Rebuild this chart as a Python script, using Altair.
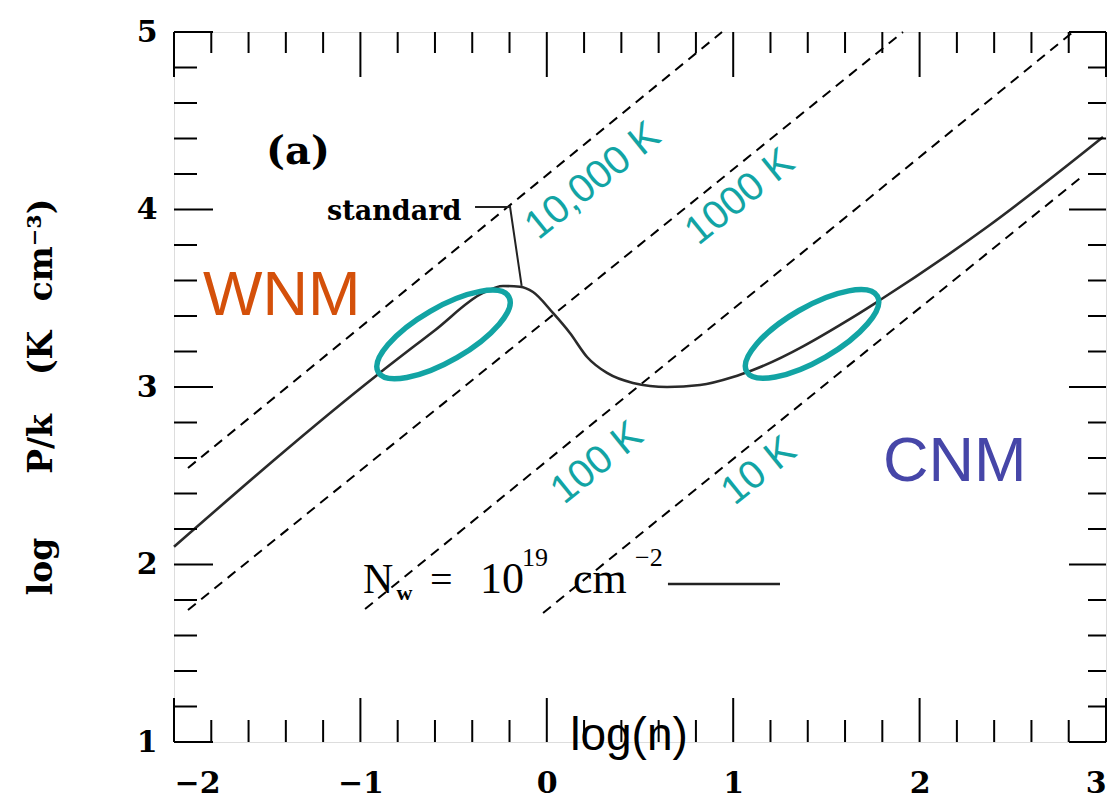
import altair as alt
import pandas as pd

# ---------------- data ----------------
curve_logn = [-2.00, -0.91, -0.60, -0.342, -0.235, -0.144, -0.074, 0.033, 0.124,
              0.216, 0.323, 0.462, 0.645, 0.822, 0.999, 1.106, 1.643, 1.788, 2.362, 2.984]
curve_logP = [2.10, 3.068, 3.32, 3.53, 3.569, 3.565, 3.535, 3.417, 3.304,
              3.169, 3.079, 3.023, 3.000, 3.011, 3.056, 3.096, 3.394, 3.490, 3.901, 4.408]

iso_labels = ["10,000 K", "1000 K", "100 K", "10 K"]
iso_x_start = [-1.925, -1.925, -0.975, -0.020]
iso_y_start = [2.544, 1.744, 1.749, 1.727]
iso_x_end = [0.940, 1.911, 2.823, 2.861]
iso_y_end = [5.0, 5.0, 5.0, 4.177]
iso_label_x = [0.248, 1.036, 0.269, 1.138]
iso_label_y = [4.161, 4.070, 2.572, 2.527]

phase_names = ["WNM", "CNM"]
phase_x = [-1.844, 1.804]
phase_y = [3.406, 2.470]
phase_colors = ["#D4500A", "#4646A8"]

ellipse_x = [-0.554, 1.423]
ellipse_y = [3.296, 3.299]

leader_x = [-0.385, -0.197, -0.135]
leader_y = [4.014, 4.014, 3.57]
nw_line_x = [0.650, 1.251]
nw_line_y = [1.890, 1.890]

x_major = [-2, -1, 0, 1, 2, 3]
y_major = [1, 2, 3, 4, 5]
x_minor = [-1.8, -1.6, -1.4, -1.2, -0.8, -0.6, -0.4, -0.2, 0.2, 0.4, 0.6, 0.8,
           1.2, 1.4, 1.6, 1.8, 2.2, 2.4, 2.6, 2.8]
y_minor = [1.2, 1.4, 1.6, 1.8, 2.2, 2.4, 2.6, 2.8, 3.2, 3.4, 3.6, 3.8,
           4.2, 4.4, 4.6, 4.8]

ytitle_parts = ["log", "P/k", "(K", "cm\u207b\u00b3)"]
ytitle_pos = [1.989, 2.679, 3.192, 3.772]

# ---------------- chart ----------------
W, H = 932, 710
TEAL = "#12A4A4"
SERIF = "DejaVu Serif"
SANS = "Liberation Sans"
TIMES = "Liberation Serif"

xscale = alt.Scale(domain=[-2, 3], nice=False, zero=False)
yscale = alt.Scale(domain=[1, 5], nice=False, zero=False)
xaxis = alt.Axis(values=x_major, ticks=False, tickSize=0, domain=False, grid=False, title=None,
                 labelFont=SERIF, labelFontWeight="bold", labelFontSize=30, labelColor="black",
                 labelPadding=26)
yaxis = alt.Axis(values=y_major, ticks=False, tickSize=0, domain=False, grid=False, title=None,
                 labelFont=SERIF, labelFontWeight="bold", labelFontSize=30, labelColor="black",
                 labelPadding=17)
X = alt.X("x:Q", scale=xscale, axis=xaxis)
Y = alt.Y("y:Q", scale=yscale, axis=yaxis)

iso_rows = []
for i, t in enumerate(iso_labels):
    iso_rows.append({"T": t, "x": iso_x_start[i], "y": iso_y_start[i]})
    iso_rows.append({"T": t, "x": iso_x_end[i], "y": iso_y_end[i]})
iso_df = pd.DataFrame(iso_rows)

isotherms = alt.Chart(iso_df).mark_line(color="black", strokeWidth=2, strokeDash=[10, 7]).encode(
    x=X, y=Y, detail="T:N")

curve_df = pd.DataFrame({"x": curve_logn, "y": curve_logP})
curve = alt.Chart(curve_df).mark_line(color="#2a2a2a", strokeWidth=2.6, interpolate="monotone").encode(x=X, y=Y)

leader = alt.Chart(pd.DataFrame({"x": leader_x, "y": leader_y, "o": [0, 1, 2]})).mark_line(
    color="#222", strokeWidth=2).encode(x=X, y=Y, order="o:Q")
nwline = alt.Chart(pd.DataFrame({"x": nw_line_x, "y": nw_line_y})).mark_line(
    color="#222", strokeWidth=2.5).encode(x=X, y=Y)

ELLIPSE = ("M-1,0 C-1,-0.196 -0.5523,-0.355 0,-0.355 C0.5523,-0.355 1,-0.196 1,0 "
           "C1,0.196 0.5523,0.355 0,0.355 C-0.5523,0.355 -1,0.196 -1,0 Z")
ellipses = alt.Chart(pd.DataFrame({"x": ellipse_x, "y": ellipse_y})).mark_point(
    shape=ELLIPSE, size=22741, angle=330, filled=False, strokeWidth=5.5, color=TEAL, opacity=1
).encode(x=X, y=Y)

iso_text = alt.Chart(pd.DataFrame({"x": iso_label_x, "y": iso_label_y, "t": iso_labels})).mark_text(
    angle=321, font=SANS, fontSize=40, color=TEAL, align="center", baseline="middle"
).encode(x=X, y=Y, text="t:N")

phase_text = alt.Chart(pd.DataFrame({"x": phase_x, "y": phase_y, "t": phase_names, "c": phase_colors})).mark_text(
    font=SANS, fontSize=63, align="left", baseline="alphabetic"
).encode(x=X, y=Y, text="t:N", color=alt.Color("c:N", scale=None))


def label(t, x, y, size, font=SERIF, weight="normal", align="left", baseline="alphabetic", color="black"):
    return alt.Chart(pd.DataFrame({"x": [x], "y": [y], "t": [t]})).mark_text(
        font=font, fontSize=size, fontWeight=weight, align=align, baseline=baseline, color=color
    ).encode(x=X, y=Y, text="t:N")


annots = [
    label("(a)", -1.335, 4.324, 40, weight="bold", align="center", baseline="middle"),
    label("standard", -1.179, 3.941, 27, weight="bold"),
    label("N", -0.986, 1.839, 42, font=TIMES),
    label("w", -0.806, 1.80, 22, font=TIMES, weight="bold"),
    label("=", -0.627, 1.839, 40, font=TIMES),
    label("10", -0.358, 1.839, 44, font=TIMES),
    label("19", -0.133, 1.992, 26, font=TIMES),
    label("cm", 0.141, 1.839, 44, font=TIMES),
    label("\u22122", 0.473, 1.992, 26, font=TIMES),
]

ytitle = alt.Chart(pd.DataFrame({"y": ytitle_pos, "t": ytitle_parts})).mark_text(
    angle=270, font=SERIF, fontWeight="bold", fontSize=33, align="center", baseline="middle", color="black"
).encode(x=alt.value(-132), y=Y, text="t:N")

xtitle = alt.Chart(pd.DataFrame({"t": ["log(n)"]})).mark_text(
    font=SANS, fontSize=46, align="center", baseline="alphabetic", color="black"
).encode(x=alt.value(455), y=alt.value(718), text="t:N")


# inward ticks on all four sides
def xticks(vals, y0, y1, sw):
    return alt.Chart(pd.DataFrame({"x": vals})).mark_rule(color="black", strokeWidth=sw).encode(
        x=X, y=alt.value(y0), y2=alt.value(y1))


def yticks(vals, x0, x1, sw):
    return alt.Chart(pd.DataFrame({"y": vals})).mark_rule(color="black", strokeWidth=sw).encode(
        y=Y, x=alt.value(x0), x2=alt.value(x1))


ticks = [
    xticks(x_major, H, H - 44, 2), xticks(x_minor, H, H - 22, 2),
    xticks(x_major, 0, 45, 2), xticks(x_minor, 0, 21, 2),
    yticks(y_major, 0, 39, 2), yticks(y_minor, 0, 23, 2),
    yticks(y_major, W, W - 37, 2), yticks(y_minor, W, W - 18, 2),
]

chart = alt.layer(
    isotherms, curve, leader, nwline, ellipses, iso_text, phase_text, *annots, ytitle, xtitle, *ticks
).properties(
    width=W, height=H,
    padding={"left": 174, "top": 32, "right": 12, "bottom": 59},
    autosize=alt.AutoSizeParams(type="none"),
).configure_view(stroke="black", strokeWidth=2.5).configure(background="white")

chart.save("out.html", embed_options={"renderer": "svg", "actions": False})
